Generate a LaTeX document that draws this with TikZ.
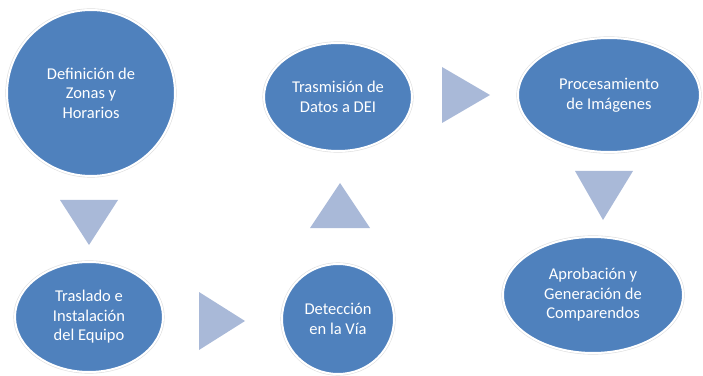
\documentclass[tikz,border=0pt]{standalone}
\usepackage{fontspec}
\setmainfont{Carlito}
\usetikzlibrary{shapes.geometric,positioning}
\definecolor{stepblue}{HTML}{4F81BD}
\definecolor{arrowblue}{HTML}{A9B9D8}
\tikzset{
  stage/.style={ellipse, fill=stepblue, draw=white, line width=2pt, inner sep=0pt,
    preaction={draw=gray!25, line width=3.2pt},
    text=white, align=center, font=\fontsize{16.5}{19.5}\selectfont},
  flow/.style={fill=arrowblue}
}
\begin{document}
\begin{tikzpicture}[x=1pt,y=1pt]
\useasboundingbox (0,0) rectangle (703,375);
\node[stage, minimum width=168pt, minimum height=166pt] (zonas) at (91,282) {Definición de\\Zonas y\\Horarios};
\node[stage, minimum width=148pt, minimum height=110pt] (traslado) at (89,58) {Traslado e\\Instalación\\del Equipo};
\node[stage, minimum width=112pt, minimum height=110pt] (deteccion) at (338,56) {Detección\\en la Vía};
\node[stage, minimum width=148pt, minimum height=108pt] (datos) at (338,278) {Trasmisión de\\Datos a DEI};
\node[stage, minimum width=182pt, minimum height=114pt] (imagenes) at (609,280) {Procesamiento\\de Imágenes};
\node[stage, minimum width=180pt, minimum height=116pt] (comparendos) at (593,80) {Aprobación y\\Generación de\\Comparendos};
% flechas entre etapas
\fill[flow] (60,175) -- (118,175) -- (89,130) -- cycle;
\fill[flow] (199,83) -- (199,25) -- (245,54) -- cycle;
\fill[flow] (310,147) -- (370,147) -- (340,192) -- cycle;
\fill[flow] (442,308) -- (442,252) -- (490,280) -- cycle;
\fill[flow] (575,204) -- (633,204) -- (603,155) -- cycle;
\end{tikzpicture}
\end{document}
